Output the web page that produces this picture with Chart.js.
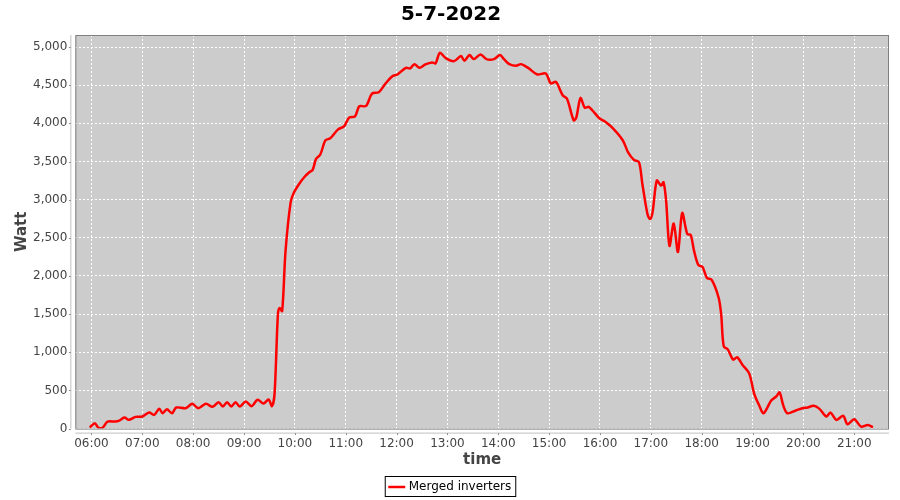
<!DOCTYPE html>
<html>
<head>
<meta charset="utf-8">
<script src="https://cdn.jsdelivr.net/npm/chart.js@4/dist/chart.umd.min.js"></script>
<style>
  html, body { margin: 0; padding: 0; background: #fff; }
  #wrap { width: 900px; height: 500px; }
</style>
</head>
<body>
<div id="wrap"><canvas id="grafico"></canvas></div>
<script>
// Lecturas del día (hora local, vatios)
const horas = [
    '05:58', '06:04', '06:08', '06:13', '06:19', '06:28', '06:32', '06:39', '06:44', '06:52',
    '07:00', '07:08', '07:14', '07:20', '07:24', '07:29', '07:35', '07:40', '07:51', '07:59',
    '08:06', '08:15', '08:23', '08:30', '08:35', '08:40', '08:45', '08:50', '08:55', '09:02',
    '09:09', '09:16', '09:23', '09:29', '09:33', '09:36', '09:40', '09:42', '09:45', '09:49',
    '09:55', '09:59', '10:05', '10:11', '10:17', '10:21', '10:25', '10:30', '10:36', '10:42',
    '10:51', '10:58', '11:04', '11:11', '11:16', '11:24', '11:31', '11:39', '11:47', '11:55',
    '12:01', '12:11', '12:16', '12:21', '12:27', '12:34', '12:42', '12:46', '12:51', '12:58',
    '13:08', '13:16', '13:20', '13:26', '13:31', '13:39', '13:46', '13:55', '14:02', '14:07',
    '14:13', '14:21', '14:27', '14:36', '14:46', '14:56', '15:02', '15:08', '15:16', '15:21',
    '15:29', '15:32', '15:37', '15:42', '15:47', '15:59', '16:05', '16:15', '16:27', '16:33',
    '16:40', '16:46', '16:50', '16:56', '16:59', '17:02', '17:07', '17:12', '17:15', '17:18',
    '17:22', '17:27', '17:32', '17:37', '17:43', '17:47', '17:51', '17:56', '18:01', '18:06',
    '18:12', '18:20', '18:23', '18:26', '18:31', '18:37', '18:42', '18:48', '18:56', '19:02',
    '19:08', '19:13', '19:22', '19:28', '19:32', '19:36', '19:41', '19:51', '19:59', '20:05',
    '20:12', '20:19', '20:27', '20:32', '20:39', '20:47', '20:52', '21:00', '21:08', '21:16',
    '21:22',
];
const vatios = [
    15, 70, 15, 10, 92, 92, 100, 145, 115, 154,
    158, 210, 180, 259, 201, 254, 201, 276, 267, 325,
    267, 325, 285, 346, 289, 346, 289, 346, 289, 355,
    294, 377, 329, 381, 294, 450, 1496, 1580, 1540, 2329,
    2965, 3096, 3206, 3294, 3359, 3390, 3535, 3592, 3776, 3807,
    3921, 3961, 4075, 4092, 4224, 4228, 4391, 4408, 4522, 4618,
    4641, 4728, 4720, 4776, 4728, 4772, 4799, 4786, 4925, 4855,
    4816, 4882, 4820, 4895, 4842, 4904, 4842, 4842, 4895, 4838,
    4776, 4754, 4776, 4720, 4641, 4654, 4522, 4544, 4368, 4325,
    4039, 4075, 4333, 4207, 4215, 4070, 4030, 3938, 3776, 3623,
    3522, 3491, 3206, 2812, 2746, 2833, 3250, 3184, 3228, 2987,
    2395, 2688, 2316, 2825, 2548, 2539, 2329, 2145, 2118, 1978,
    1947, 1715, 1496, 1079, 1035, 904, 934, 838, 724, 455,
    300, 201, 368, 421, 474, 312, 201, 237, 267, 276,
    298, 259, 158, 210, 114, 167, 57, 122, 26, 48,
    17,
];

const TITULO = '5-7-2022';
const SERIE = 'Merged inverters';
const EJE_X = 'time';
const EJE_Y = 'Watt';

// Rango visible del eje temporal (minutos desde medianoche)
const X_MIN = 341;
const X_MAX = 1301;
const Y_MAX = 5158;

const FUENTE = '"DejaVu Sans", Verdana, sans-serif';

function aMinutos(hhmm) {
    const [h, m] = hhmm.split(':').map(Number);
    return h * 60 + m;
}

function formatoHora(min) {
    const h = Math.floor(min / 60);
    const m = Math.round(min % 60);
    return String(h).padStart(2, '0') + ':' + String(m).padStart(2, '0');
}

const puntos = horas.map((h, i) => ({ x: aMinutos(h), y: vatios[i] }));

// Fondo gris del área de trazado, borde y ejes separados (estilo JFreeChart)
const marcoPlot = {
    id: 'marcoPlot',
    beforeDraw(chart) {
        const { ctx, chartArea: a } = chart;
        ctx.save();
        ctx.fillStyle = '#cccccc';
        ctx.fillRect(a.left, a.top, a.right - a.left, a.bottom - a.top);
        ctx.restore();
    },
    afterDraw(chart) {
        const { ctx, chartArea: a, scales } = chart;
        ctx.save();
        ctx.strokeStyle = '#808080';
        ctx.lineWidth = 1;
        ctx.strokeRect(a.left + 0.5, a.top + 0.5, a.right - a.left - 1, a.bottom - a.top);

        // Líneas de eje desplazadas 4px
        ctx.strokeStyle = '#c0c0c0';
        const ax = a.left - 4.5;
        const ay = a.bottom + 4.5;
        ctx.beginPath();
        ctx.moveTo(ax, a.top);
        ctx.lineTo(ax, a.bottom);
        ctx.moveTo(a.left, ay);
        ctx.lineTo(a.right, ay);
        ctx.stroke();

        ctx.strokeStyle = '#909090';
        ctx.beginPath();
        scales.y.ticks.forEach((t) => {
            const py = Math.round(scales.y.getPixelForValue(t.value)) + 0.5;
            ctx.moveTo(ax - 2, py);
            ctx.lineTo(ax, py);
        });
        scales.x.ticks.forEach((t) => {
            const px = Math.round(scales.x.getPixelForValue(t.value)) + 0.5;
            ctx.moveTo(px, ay);
            ctx.lineTo(px, ay + 2);
        });
        ctx.stroke();

        // Recuadro de la leyenda
        const cajas = chart.legend.legendHitBoxes;
        if (cajas && cajas.length) {
            const c = cajas[0];
            ctx.strokeStyle = '#000';
            ctx.strokeRect(c.left - 5.5, c.top - 4.5, c.width + 10, c.height + 8);
        }
        ctx.restore();
    },
};

Chart.defaults.font.family = FUENTE;
Chart.defaults.color = '#444444';

new Chart(document.getElementById('grafico'), {
    type: 'line',
    data: {
        datasets: [
            {
                label: SERIE,
                data: puntos,
                borderColor: '#ff0000',
                backgroundColor: '#ff0000',
                borderWidth: 2.5,
                pointRadius: 0,
                tension: 0.3,
                fill: false,
            },
        ],
    },
    options: {
        responsive: true,
        maintainAspectRatio: false,
        animation: false,
        layout: { padding: { left: 13, right: 11, top: 0, bottom: -3 } },
        scales: {
            x: {
                type: 'linear',
                min: X_MIN,
                max: X_MAX,
                afterBuildTicks(scale) {
                    const t = [];
                    for (let v = 360; v <= X_MAX; v += 60) t.push({ value: v });
                    scale.ticks = t;
                },
                ticks: {
                    callback: (v) => formatoHora(v),
                    font: { size: 12 },
                    color: '#444',
                    padding: 2,
                    maxRotation: 0,
                },
                grid: {
                    color: '#ffffff',
                    lineWidth: 1,
                    tickLength: 6,
                    tickColor: 'rgba(0,0,0,0)',
                },
                border: { display: false, dash: [2, 2] },
                title: {
                    display: true,
                    text: EJE_X,
                    font: { size: 15, weight: 'bold', lineHeight: 1 },
                    color: '#444',
                    padding: { top: 0, bottom: 11 },
                },
            },
            y: {
                min: 0,
                max: Y_MAX,
                afterBuildTicks(scale) {
                    const t = [];
                    for (let v = 0; v <= 5000; v += 500) t.push({ value: v });
                    scale.ticks = t;
                },
                ticks: {
                    callback: (v) => v.toLocaleString('en-US'),
                    font: { size: 12 },
                    color: '#444',
                    padding: 1,
                },
                grid: {
                    color: '#ffffff',
                    lineWidth: 1,
                    tickLength: 7,
                    tickColor: 'rgba(0,0,0,0)',
                },
                border: { display: false, dash: [2, 2] },
                title: {
                    display: true,
                    text: EJE_Y,
                    font: { size: 15, weight: 'bold' },
                    color: '#444',
                    padding: { top: 0, bottom: 1 },
                },
            },
        },
        plugins: {
            title: {
                display: true,
                text: TITULO,
                font: { size: 20, weight: 'bold' },
                color: '#000',
                padding: { top: 3, bottom: 8 },
            },
            legend: {
                position: 'bottom',
                labels: {
                    usePointStyle: true,
                    pointStyle: 'line',
                    boxWidth: 20,
                    font: { size: 12 },
                    color: '#000',
                    padding: 2,
                },
            },
            tooltip: { enabled: false },
        },
    },
    plugins: [marcoPlot],
});
</script>
</body>
</html>
